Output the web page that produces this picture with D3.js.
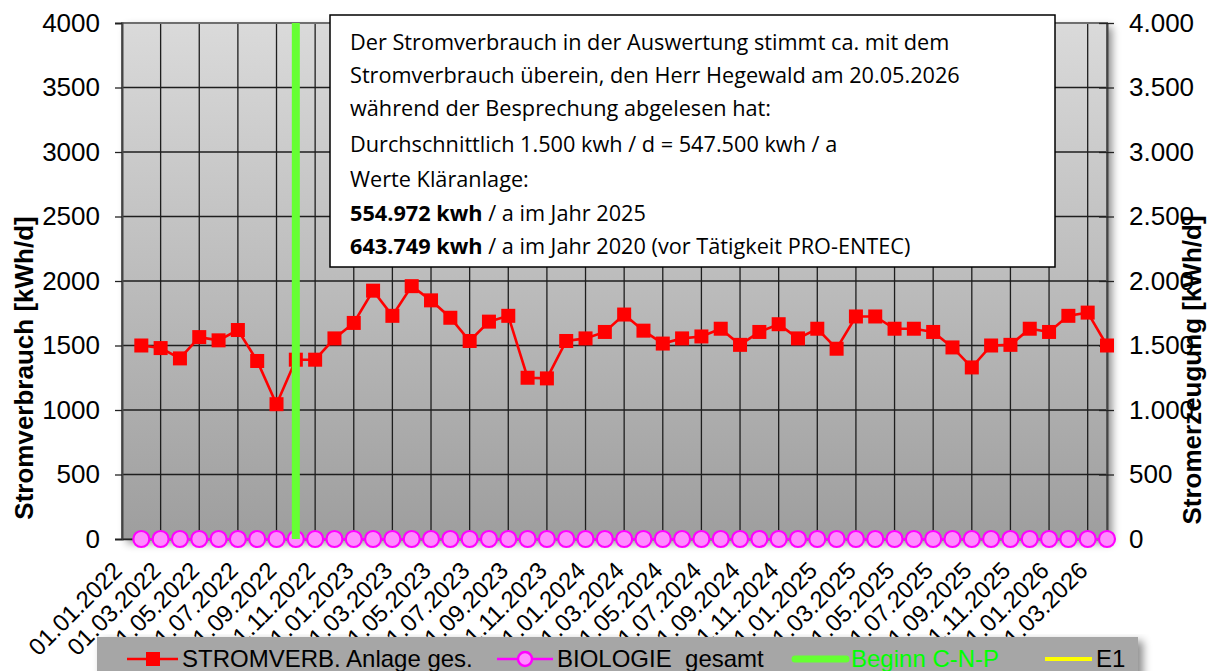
<!DOCTYPE html>
<html><head><meta charset="utf-8">
<script src="https://cdn.jsdelivr.net/npm/d3@7"></script>
<style>html,body{margin:0;padding:0;background:#fff;} svg{display:block;}</style>
</head><body>
<svg id="chart" width="1211" height="671"></svg>
<script>
// ---- data ----
const tickLabels = ["01.01.2022","01.03.2022","01.05.2022","01.07.2022","01.09.2022","01.11.2022",
  "01.01.2023","01.03.2023","01.05.2023","01.07.2023","01.09.2023","01.11.2023",
  "01.01.2024","01.03.2024","01.05.2024","01.07.2024","01.09.2024","01.11.2024",
  "01.01.2025","01.03.2025","01.05.2025","01.07.2025","01.09.2025","01.11.2025",
  "01.01.2026","01.03.2026"];
const tickMonths = tickLabels.map((d,i)=>i*2);          // month offset from 01.01.2022
const pointMonths = d3.range(1,52);                     // monthly values (51)
const stromverb = [1500,1480,1400,1565,1540,1620,1380,1045,1390,1390,
  1555,1675,1925,1730,1960,1850,1715,1535,1685,1730,
  1250,1245,1535,1555,1605,1740,1615,1515,1555,1570,
  1630,1505,1605,1665,1555,1630,1475,1725,1725,1630,
  1630,1605,1485,1330,1500,1505,1630,1605,1730,1755,1500];
const biologie = [0,0,0,0,0,0,0,0,0,0,0,0,0,0,0,0,0,0,0,0,0,0,0,0,0,0,0,0,0,0,
  0,0,0,0,0,0,0,0,0,0,0,0,0,0,0,0,0,0,0,0,0];
const beginnMonth = [9, 9];
const beginnValue = [0, 4000];
const yTicks = [0,500,1000,1500,2000,2500,3000,3500,4000];
const legendNames = ["STROMVERB. Anlage ges.","BIOLOGIE  gesamt","Beginn C-N-P","E1"];
const noteLines = [
  [{t:"Der Stromverbrauch in der Auswertung stimmt ca. mit dem"}],
  [{t:"Stromverbrauch überein, den Herr Hegewald am 20.05.2026"}],
  [{t:"während der Besprechung abgelesen hat:"}],
  [{t:"Durchschnittlich 1.500 kwh / d = 547.500 kwh / a"}],
  [{t:"Werte Kläranlage:"}],
  [{t:"554.972 kwh",b:true},{t:" / a im Jahr 2025"}],
  [{t:"643.749 kwh",b:true},{t:" / a im Jahr 2020 (vor Tätigkeit PRO-ENTEC)"}]
];

// ---- layout ----
const L=122, R=1107, T=23, B=539;
const svg = d3.select("#chart");
const x = d3.scaleLinear().domain([0,51]).range([L,R]);
const y = d3.scaleLinear().domain([0,4000]).range([B,T]);
const y2 = d3.scaleLinear().domain([0,4000]).range([B,T]);
const deFmt = d3.formatLocale({decimal:",",thousands:".",grouping:[3],currency:["","€"]}).format(",d");

const defs = svg.append("defs");
const grad = defs.append("linearGradient").attr("id","bg").attr("x1",0).attr("x2",0).attr("y1",0).attr("y2",1);
grad.append("stop").attr("offset","0%").attr("stop-color","#dadada");
grad.append("stop").attr("offset","100%").attr("stop-color","#9e9e9e");
const sh = defs.append("filter").attr("id","shadow").attr("x","-5%").attr("y","-5%").attr("width","115%").attr("height","120%");
sh.append("feDropShadow").attr("dx",5).attr("dy",4).attr("stdDeviation",4).attr("flood-color","#000").attr("flood-opacity",0.45);

// plot background
svg.append("rect").attr("x",L).attr("y",T).attr("width",R-L).attr("height",B-T)
  .attr("fill","url(#bg)").attr("filter","url(#shadow)");

// gridlines
const grid = svg.append("g");
grid.selectAll("line.h").data(yTicks).join("line")
  .attr("x1",L).attr("x2",R).attr("y1",d=>y(d)).attr("y2",d=>y(d))
  .attr("stroke","#1e1e1e").attr("stroke-width",1.3);
grid.selectAll("line.v").data(tickMonths).join("line")
  .attr("x1",d=>x(d)).attr("x2",d=>x(d)).attr("y1",T).attr("y2",B)
  .attr("stroke","#1e1e1e").attr("stroke-width",1.3);
svg.append("rect").attr("x",L).attr("y",T).attr("width",R-L).attr("height",B-T)
  .attr("fill","none").attr("stroke","#6e6e6e").attr("stroke-width",2);

// axes
const font = "'Liberation Sans', Arial, sans-serif";
const ax = svg.append("g").attr("transform",`translate(${L},0)`)
  .call(d3.axisLeft(y).tickValues(yTicks).tickSize(7).tickPadding(15).tickFormat(d3.format("d")));
ax.selectAll("text").attr("font-family",font).attr("font-size",26).attr("fill","#000");
ax.select(".domain").attr("stroke","#444").attr("stroke-width",2);
ax.selectAll(".tick line").attr("stroke","#222").attr("stroke-width",1.3);

const ax2 = svg.append("g").attr("transform",`translate(${R},0)`)
  .call(d3.axisRight(y2).tickValues(yTicks).tickSizeInner(7).tickSizeOuter(0).tickPadding(15).tickFormat(deFmt));
ax2.selectAll("text").attr("font-family",font).attr("font-size",26).attr("fill","#000");
ax2.select(".domain").attr("stroke","#444").attr("stroke-width",2);
ax2.selectAll(".tick line").attr("x1",-8).attr("stroke","#222").attr("stroke-width",1.3);

const axb = svg.append("g").attr("transform",`translate(0,${B})`)
  .call(d3.axisBottom(x).tickValues(tickMonths).tickSize(0).tickFormat((d,i)=>tickLabels[i]));
axb.select(".domain").attr("stroke","#222").attr("stroke-width",1.3);
axb.selectAll("text").attr("font-family",font).attr("font-size",24).attr("fill","#000")
  .attr("text-anchor","end").attr("dy",0).attr("y",0)
  .attr("transform","translate(1,33) rotate(-45)");

// series: STROMVERB
const line = d3.line().x((d,i)=>x(pointMonths[i])).y(d=>y(d));
svg.append("path").datum(stromverb).attr("d",line).attr("fill","none")
  .attr("stroke","#ff0000").attr("stroke-width",2.6);
svg.append("g").selectAll("rect").data(stromverb).join("rect")
  .attr("x",(d,i)=>x(pointMonths[i])-7).attr("y",d=>y(d)-7).attr("width",14).attr("height",14)
  .attr("fill","#ff0000");

// series: BIOLOGIE
svg.append("path").datum(biologie).attr("d",d3.line().x((d,i)=>x(pointMonths[i])).y(d=>y2(d)))
  .attr("fill","none").attr("stroke","#ff00ff").attr("stroke-width",2.2);
svg.append("g").selectAll("circle").data(biologie).join("circle")
  .attr("cx",(d,i)=>x(pointMonths[i])).attr("cy",d=>y2(d)).attr("r",8)
  .attr("fill","#ff8cff").attr("stroke","#ff00ff").attr("stroke-width",2.2);

// Beginn C-N-P
svg.append("path").datum(beginnValue)
  .attr("d",d3.line().x((d,i)=>x(beginnMonth[i])).y(d=>y2(d)))
  .attr("stroke","#66ff33").attr("stroke-width",8).attr("fill","none");

// axis titles
svg.append("text").attr("transform","translate(33,368) rotate(-90)")
  .attr("text-anchor","middle").attr("font-family",font).attr("font-weight","bold")
  .attr("font-size",26).text("Stromverbrauch [kWh/d]");
svg.append("text").attr("transform","translate(1201,370) rotate(-90)")
  .attr("text-anchor","middle").attr("font-family",font).attr("font-weight","bold")
  .attr("font-size",26).text("Stromerzeugung [kWh/d]");

// note box
const nb = svg.append("g");
nb.append("rect").attr("x",330).attr("y",15).attr("width",725).attr("height",252)
  .attr("fill","#fff").attr("stroke","#000").attr("stroke-width",1.5);
const baselines = [50,83,116,152,187,221,254];
noteLines.forEach((parts,i)=>{
  const t = nb.append("text").attr("x",350).attr("y",baselines[i])
    .attr("font-family","'Open Sans', sans-serif").attr("font-size",21.7).attr("fill","#000");
  parts.forEach(p=>t.append("tspan").attr("font-weight",p.b?"bold":"normal").text(p.t));
});

// legend
const lg = svg.append("g");
lg.append("rect").attr("x",97).attr("y",637).attr("width",1041).attr("height",44)
  .attr("fill","#a6a6a6").attr("filter","url(#shadow)");
const ly = 659;
// item 1
lg.append("line").attr("x1",127).attr("x2",178).attr("y1",ly).attr("y2",ly).attr("stroke","#ff0000").attr("stroke-width",2.6);
lg.append("rect").attr("x",146).attr("y",ly-7).attr("width",14).attr("height",14).attr("fill","#ff0000");
// item 2
lg.append("line").attr("x1",497).attr("x2",553).attr("y1",ly).attr("y2",ly).attr("stroke","#ff00ff").attr("stroke-width",2.5);
lg.append("circle").attr("cx",525).attr("cy",ly).attr("r",7).attr("fill","#ff8cff").attr("stroke","#ff00ff").attr("stroke-width",2.5);
// item 3
lg.append("line").attr("x1",795).attr("x2",846).attr("y1",ly).attr("y2",ly).attr("stroke","#66ff33").attr("stroke-width",7).attr("stroke-linecap","round");
// item 4
lg.append("line").attr("x1",1045).attr("x2",1092).attr("y1",ly).attr("y2",ly).attr("stroke","#ffff00").attr("stroke-width",4);
const lx = [182,557,851,1096];
const lc = ["#000","#000","#00ff00","#000"];
legendNames.forEach((n,i)=>{
  lg.append("text").attr("x",lx[i]).attr("y",ly+8).attr("font-family",font).attr("font-size",24)
    .attr("fill",lc[i]).attr("xml:space","preserve").style("white-space","pre").text(n);
});
</script>
</body></html>
